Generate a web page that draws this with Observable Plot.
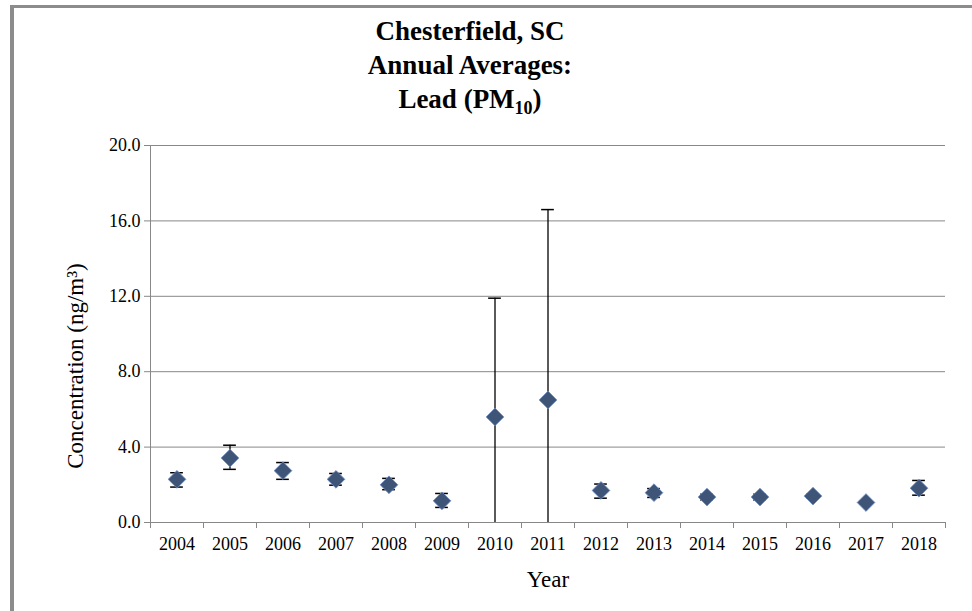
<!DOCTYPE html>
<html><head><meta charset="utf-8">
<script src="https://cdn.jsdelivr.net/npm/d3@7"></script>
<script src="https://cdn.jsdelivr.net/npm/@observablehq/plot@0.6"></script>
<style>
body{margin:0;background:#fff;font-family:"Liberation Serif","Times New Roman",serif;}
#wrap{position:relative;width:972px;height:611px;overflow:hidden;}
#frame{position:absolute;left:10px;top:5px;width:980px;height:640px;border-left:4px solid #8c8c8c;border-top:3px solid #8c8c8c;}
#title{position:absolute;left:270px;width:400px;top:14px;text-align:center;font-weight:bold;font-size:27px;line-height:34px;}
#chart{position:absolute;left:0;top:0;}
#chart svg text{font-family:"Liberation Serif","Times New Roman",serif;}
</style></head><body>
<div id="wrap"><div id="frame"></div>
<div id="title">Chesterfield, SC<br>Annual Averages:<br>Lead (PM<sub style="font-size:18px">10</sub>)</div>
<div id="chart"></div></div>
<script>
const years = ["2004","2005","2006","2007","2008","2009","2010","2011","2012","2013","2014","2015","2016","2017","2018"];
const means = [2.29,3.42,2.75,2.29,2.0,1.15,5.6,6.5,1.7,1.58,1.35,1.35,1.4,1.06,1.82];
const upper = [2.64,4.1,3.18,2.6,2.34,1.54,11.9,16.6,2.04,1.8,1.5,1.5,1.5,1.12,2.23];
const lower = [1.88,2.82,2.29,1.98,1.74,0.8,0,0,1.29,1.33,1.2,1.2,1.3,1.0,1.45];
const yTicks = [0,4,8,12,16,20];

const data = years.map((y,i)=>({x:i+0.5,year:y,m:means[i],hi:upper[i],lo:lower[i]}));
const bounds = d3.range(0,16);
const capW = 0.12;
const F = '"Liberation Serif","Times New Roman",serif';
const plot = Plot.plot({
  width:972,height:611,
  marginLeft:150,marginRight:27,marginTop:145,marginBottom:89,
  style:{fontFamily:F,fontSize:"17px",color:"#000",background:"transparent"},
  x:{domain:[0,15],axis:null},
  y:{domain:[0,20],axis:null},
  marks:[
    Plot.gridY(yTicks.filter(d=>d>0),{stroke:"#888",strokeOpacity:1,strokeWidth:1}),
    Plot.axisY(yTicks,{tickFormat:d=>d.toFixed(1),label:null,tickSize:6,tickPadding:4,stroke:"#888",fontSize:18,fontFamily:F}),
    Plot.ruleY([0],{stroke:"#888"}),
    Plot.ruleX([0],{stroke:"#888"}),
    Plot.ruleX(bounds,{x:d=>d,y1:0,y2:-0.32,stroke:"#888",clip:false}),
    Plot.text(data,{x:"x",y:0,text:"year",dy:22,fontSize:18,fontFamily:F}),
    Plot.ruleX(data,{x:"x",y1:"lo",y2:"hi",stroke:"#000",strokeWidth:1.3}),
    Plot.ruleY(data,{y:"hi",x1:d=>d.x-capW,x2:d=>d.x+capW,stroke:"#000",strokeWidth:1.5}),
    Plot.ruleY(data.filter(d=>d.lo>0),{y:"lo",x1:d=>d.x-capW,x2:d=>d.x+capW,stroke:"#000",strokeWidth:1.5}),
    Plot.dot(data,{x:"x",y:"m",symbol:"diamond2",r:8,fill:"#3f5577",stroke:"#6f8fc8",strokeWidth:0.8}),
    Plot.text(["Year"],{frameAnchor:"bottom",dy:64,fontSize:23,fontFamily:F,text:d=>d}),
    Plot.text(["Concentration (ng/m³)"],{frameAnchor:"left",rotate:-90,dx:-75,dy:32,textAnchor:"middle",fontSize:23,fontFamily:F,text:d=>d})
  ]
});
document.getElementById("chart").appendChild(plot);
</script></body></html>
